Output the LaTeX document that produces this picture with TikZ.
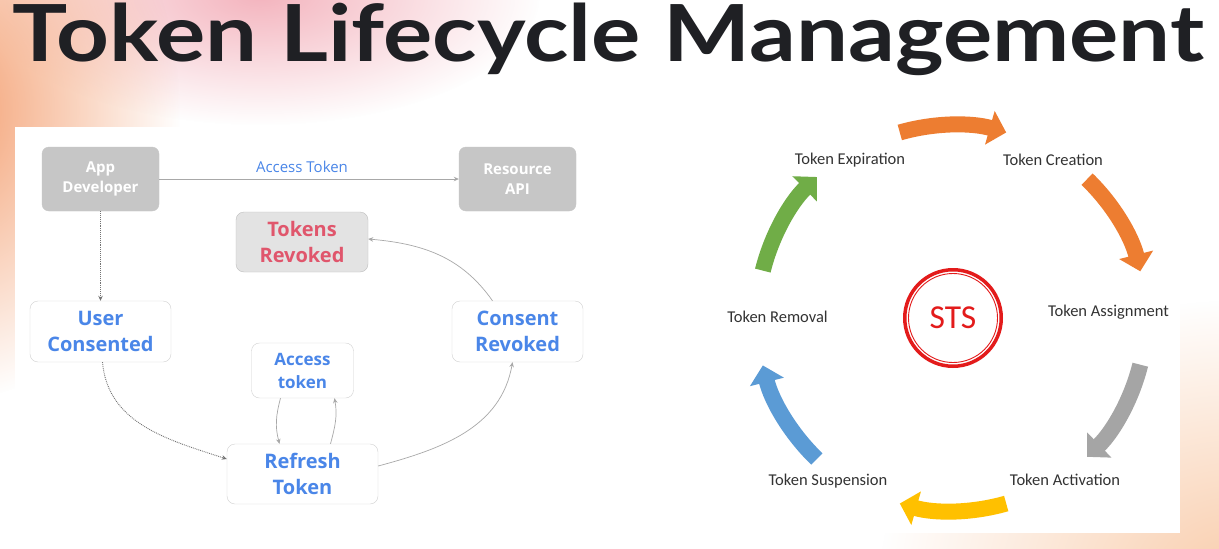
\documentclass[tikz,border=0pt]{standalone}
\usepackage{fontspec}
\setmainfont{Open Sans}
\newfontfamily\titlefont{Lato}
\newfontfamily\boxfont{Open Sans}
\newfontfamily\calfont{Carlito}
\usetikzlibrary{arrows.meta,fadings}
\definecolor{gblue}{HTML}{4A86E8}
\definecolor{boxgray}{HTML}{C6C6C6}
\definecolor{revred}{HTML}{E0566C}
\definecolor{lineg}{HTML}{A8A8A8}
\definecolor{orangeA}{HTML}{ED7D31}
\definecolor{grayA}{HTML}{A5A5A5}
\definecolor{yellowA}{HTML}{FFC000}
\definecolor{blueA}{HTML}{5B9BD5}
\definecolor{greenA}{HTML}{70AD47}
\definecolor{stsred}{HTML}{E31B1B}
\definecolor{titleblack}{HTML}{1F2024}
\definecolor{peach}{HTML}{F4A072}
\definecolor{pinkg}{HTML}{F4B4BE}
\definecolor{peachb}{HTML}{F9CDAC}
\tikzfading[name=glowfade, inner color=transparent!0, outer color=transparent!100]
\tikzset{
  graybox/.style={rounded corners=7pt, fill=boxgray, draw=boxgray, text=white,
    font=\boxfont\bfseries\fontsize{15}{20}\selectfont, align=center,
    minimum width=117pt, minimum height=64pt, inner sep=0pt},
  whitebox/.style={rounded corners=8pt, fill=white, draw=black!18, text=gblue,
    font=\boxfont\bfseries\fontsize{20}{26}\selectfont, align=center, inner sep=0pt},
  lbl/.style={font=\calfont\fontsize{16.5}{20}\selectfont, text=black!80, inner sep=0pt},
  conn/.style={draw=lineg, line width=0.7pt, -{Stealth[length=5pt,width=4.5pt]}},
  dotconn/.style={conn, draw=black!55, line width=0.9pt, densely dotted},
  blockarrow/.style={line width=16pt, -{Triangle[length=17pt,width=34pt]}}
}
\begin{document}
\begin{tikzpicture}[x=1pt,y=1pt]
\useasboundingbox (0,0) rectangle (1219,-549);
% background
\fill[white] (0,0) rectangle (1219,-549);
\begin{scope}
\clip (0,0) rectangle (1219,-549);
\fill[pinkg, path fading=glowfade] (260,5) ellipse [x radius=280, y radius=130];
\fill[peach, path fading=glowfade] (-50,-110) ellipse [x radius=230, y radius=290];
\fill[peachb, path fading=glowfade] (1240,-580) ellipse [x radius=360, y radius=280];
\end{scope}
\fill[white] (15,-127) rectangle (700,-549);
\fill[white] (620,-90) rectangle (1180,-533);
% title
\node[anchor=base west, inner sep=0pt, text=titleblack] (title) at (12,-61)
  {\resizebox{1191pt}{58.5pt}{\titlefont\bfseries Token Lifecycle Management}};
% left diagram
\node[graybox] (appdev) at (100.5,-179) {App\\Developer};
\node[graybox] (resapi) at (517.5,-179) {Resource\\API};
\node[whitebox, fill=black!11, draw=black!25, text=revred, minimum width=132pt, minimum height=60pt] (tokrev) at (302,-242) {Tokens\\Revoked};
\node[whitebox, minimum width=141pt, minimum height=61pt] (usercons) at (100.5,-331.5) {User\\Consented};
\node[whitebox, minimum width=131pt, minimum height=61pt] (consrev) at (517.5,-331.5) {Consent\\Revoked};
\node[whitebox, font=\boxfont\bfseries\fontsize{17}{23}\selectfont, minimum width=102pt, minimum height=55pt] (acctok) at (302.5,-370.5) {Access\\token};
\node[whitebox, minimum width=151pt, minimum height=60pt] (refresh) at (302.5,-474) {Refresh\\Token};
\node[font=\boxfont\fontsize{15}{18}\selectfont, text=gblue, inner sep=0pt] (acclbl) at (302,-167) {Access Token};
\draw[conn] (appdev) -- (resapi);
\draw[dotconn] (appdev) -- (usercons);
\draw[dotconn] ([xshift=2pt]usercons.south) to[out=-85,in=162] ([yshift=15pt]refresh.west);
\draw[conn] ([yshift=8pt]refresh.east) to[out=15,in=-100] ([xshift=-5pt]consrev.south);
\draw[conn] ([xshift=-25pt]consrev.north) to[out=125,in=-5] ([yshift=3pt]tokrev.east);
\draw[conn] ([xshift=-22pt]acctok.south) to[out=-105,in=105] ([xshift=-23pt]refresh.north);
\draw[conn] ([xshift=28pt]refresh.north) to[out=75,in=-80] ([xshift=32pt]acctok.south);
% right diagram
\coordinate (C) at (953,-318);
\node[circle, draw=stsred, line width=3.5pt, minimum size=96.5pt, inner sep=0pt,
  font=\calfont\fontsize{33.5}{36}\selectfont, text=stsred] (sts) at (C) {STS};
\draw[stsred, line width=0.9pt] (sts.center) circle[radius=44.5];
\draw[blockarrow, orangeA] ([shift={(106:193)}]C) arc[start angle=106, end angle=74, radius=193];
\draw[blockarrow, orangeA] ([shift={(46:193)}]C) arc[start angle=46, end angle=14, radius=193];
\draw[blockarrow, grayA] ([shift={(-14:193)}]C) arc[start angle=-14, end angle=-46, radius=193];
\draw[blockarrow, yellowA] ([shift={(-74:193)}]C) arc[start angle=-74, end angle=-106, radius=193];
\draw[blockarrow, blueA] ([shift={(-134:196)}]C) arc[start angle=-134, end angle=-166, radius=196];
\draw[blockarrow, greenA] ([shift={(166:196)}]C) arc[start angle=166, end angle=134, radius=196];
\node[lbl] (lexp) at (850,-160) {Token Expiration};
\node[lbl] (lcre) at (1053,-160) {Token Creation};
\node[lbl] (lass) at (1108.5,-312) {Token Assignment};
\node[lbl] (lact) at (1065,-480) {Token Activation};
\node[lbl] (lsus) at (828,-481) {Token Suspension};
\node[lbl] (lrem) at (777.5,-317) {Token Removal};
\end{tikzpicture}
\end{document}
